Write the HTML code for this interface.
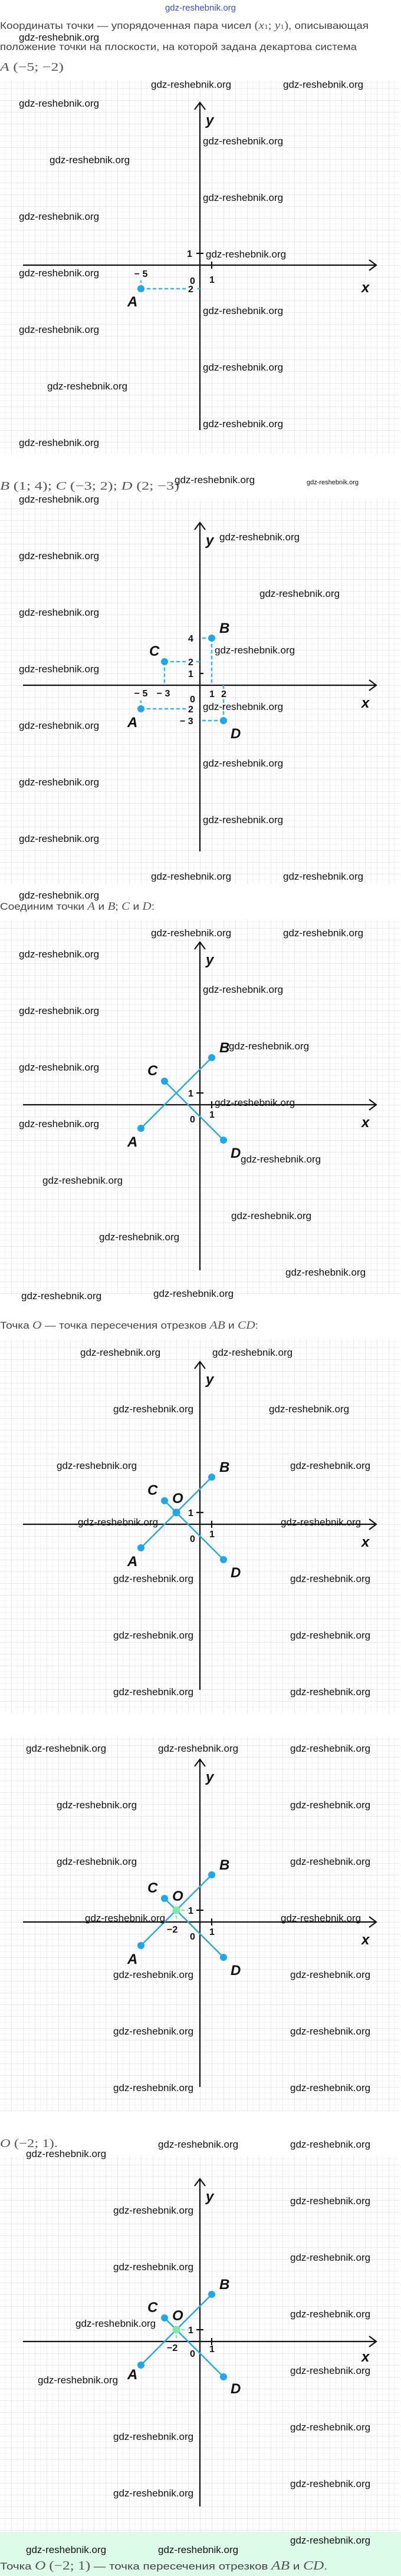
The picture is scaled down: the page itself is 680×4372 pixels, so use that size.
<!DOCTYPE html>
<html><head><meta charset="utf-8">
<style>
html,body{margin:0;padding:0;background:#fff;}
body{width:680px;height:4372px;overflow:hidden;position:relative;}
svg{position:absolute;left:0;top:0;}
.wm{font-family:"Liberation Sans",sans-serif;font-size:17px;fill:#111;}
.tx{font-family:"Liberation Sans",sans-serif;font-size:17px;fill:#444;}
.mi{font-family:"Liberation Serif",serif;font-style:italic;fill:#555;}
.mr{font-family:"Liberation Serif",serif;fill:#555;}
.ax{stroke:#111;stroke-width:2.2;fill:none;}
.num{font-family:"Liberation Sans",sans-serif;font-size:16px;font-weight:bold;fill:#111;}
.pl{font-family:"Liberation Sans Narrow","Liberation Sans",sans-serif;font-size:24px;font-weight:bold;font-style:italic;fill:#111;}
.dl{stroke:#3bb5e0;stroke-width:2.5;stroke-dasharray:6 4;fill:none;}
.gd{stroke:#7ee8a8;stroke-width:2.5;stroke-dasharray:5 4;fill:none;}
.sg{stroke:#2aa8e0;stroke-width:2.5;fill:none;}
.pt{fill:#1ea7ee;}
</style></head><body>
<svg width="680" height="4372" viewBox="0 0 680 4372" xmlns="http://www.w3.org/2000/svg">
<defs>
<pattern id="gp" patternUnits="userSpaceOnUse" width="20" height="20" x="0" y="0">
<rect width="20" height="20" fill="#fff"/>
<path d="M10 0V20M0 10H20" stroke="#f1f1f1" stroke-width="1"/>
<path d="M0 0V20M0 0H20" stroke="#e2e2e2" stroke-width="1.5"/>
</pattern>
</defs>
<rect x="0" y="4297" width="680" height="75" fill="#dcfbe8"/>

<!-- header -->
<text x="340" y="18" text-anchor="middle" font-family="Liberation Sans Narrow, Liberation Sans, sans-serif" font-size="15" fill="#3a4fe0">gdz-reshebnik.org</text>
<text class="tx" x="0" y="49" textLength="625" lengthAdjust="spacingAndGlyphs">Координаты точки — упорядоченная пара чисел <tspan class="mr" font-size="19">(</tspan><tspan class="mi" font-size="19">x</tspan><tspan class="mr" font-size="12">1</tspan><tspan class="mr" font-size="19">;  </tspan><tspan class="mi" font-size="19">y</tspan><tspan class="mr" font-size="12">1</tspan><tspan class="mr" font-size="19">)</tspan>, описывающая</text>
<text class="tx" x="0" y="85" textLength="605" lengthAdjust="spacingAndGlyphs">положение точки на плоскости, на которой задана декартова система</text>
<text class="mr" x="0" y="120" font-size="20" textLength="108" lengthAdjust="spacingAndGlyphs"><tspan class="mi">A</tspan> (−5;  −2)</text>

<!-- GRAPH 1 -->
<g transform="translate(339,450)">
<rect x="-339" y="-313" width="677" height="633" fill="url(#gp)"/>
<path class="ax" d="M-300 0H299M287 -9L299 0L287 9M0 280V-276M-9 -264L0 -276L9 -264M20 -6V6M-6 -20H6"/>
<text class="num" x="-17" y="32" font-size="20">0</text>
<text class="num" x="16" y="30">1</text>
<text class="num" x="-22" y="-14">1</text>
<text x="10" y="-238" class="pl" font-size="26">y</text>
<text x="274" y="46" class="pl" font-size="26">x</text>
<path class="dl" d="M-100 40V26M-100 40H-22M-4 40H0"/>
<text class="num" x="-100" y="20" text-anchor="middle">− 5</text>
<text class="num" x="-20" y="46">2</text>
<circle class="pt" cx="-100" cy="40" r="6"/>
<text class="pl" x="-123" y="70">A</text>
</g>

<!-- GRAPH 2 -->
<text class="mr" x="0" y="831" font-size="20" textLength="304" lengthAdjust="spacingAndGlyphs"><tspan class="mi">B</tspan> (1;  4);  <tspan class="mi">C</tspan> (−3;  2);   <tspan class="mi">D</tspan> (2;  −3)</text>
<g transform="translate(339,1163)">
<rect x="-339" y="-316" width="677" height="336" fill="url(#gp)"/>
<rect x="-339" y="20" width="677" height="317" fill="url(#gp)"/>
<path class="ax" d="M-300 0H299M287 -9L299 0L287 9M0 282V-276M-9 -264L0 -276L9 -264M0 -20H6"/>
<path class="dl" d="M-100 40V26M-100 40H-20M20 -80H4M20 -80V-4M-60 -40H-20M-6 -40H0M-60 -40V-4M40 60H4M40 60V22M40 6V0"/>
<text class="num" x="-100" y="19" text-anchor="middle">− 5</text>
<text class="num" x="-62" y="19" text-anchor="middle">− 3</text>
<text class="num" x="-17" y="29" font-size="20">0</text>
<text class="num" x="16" y="20">1</text>
<text class="num" x="36" y="20">2</text>
<text class="num" x="-20" y="-74">4</text>
<text class="num" x="-20" y="-34">2</text>
<text class="num" x="-20" y="-14">1</text>
<text class="num" x="-20" y="46">2</text>
<text class="num" x="-34" y="66">− 3</text>
<text x="10" y="-238" class="pl" font-size="26">y</text>
<text x="274" y="38" class="pl" font-size="26">x</text>
<circle class="pt" cx="-100" cy="40" r="6"/>
<circle class="pt" cx="20" cy="-80" r="6"/>
<circle class="pt" cx="-60" cy="-40" r="6"/>
<circle class="pt" cx="40" cy="60" r="6"/>
<text class="pl" x="-123" y="71">A</text>
<text class="pl" x="33" y="-89">B</text>
<text class="pl" x="-86" y="-50">C</text>
<text class="pl" x="52" y="90">D</text>
</g>

<!-- GRAPH 3 -->
<text class="tx" x="0" y="1544" textLength="262" lengthAdjust="spacingAndGlyphs">Соединим точки <tspan class="mi" font-size="19">A</tspan> и <tspan class="mi" font-size="19">B</tspan>; <tspan class="mi" font-size="19">C</tspan> и <tspan class="mi" font-size="19">D</tspan>:</text>
<g transform="translate(339,1875)">
<rect x="-339" y="-314" width="677" height="636" fill="url(#gp)"/>
<path class="ax" d="M-300 0H299M287 -9L299 0L287 9M0 281V-276M-9 -264L0 -276L9 -264M20 -6V6M-6 -20H6"/>
<text class="num" x="-17" y="30" font-size="20">0</text>
<text class="num" x="16" y="22">1</text>
<text class="num" x="-20" y="-14">1</text>
<text x="10" y="-238" class="pl" font-size="26">y</text>
<text x="274" y="38" class="pl" font-size="26">x</text>
<path class="sg" d="M-100 40L20 -80M-60 -40L40 60"/>
<circle class="pt" cx="-100" cy="40" r="6"/><circle class="pt" cx="20" cy="-80" r="6"/>
<circle class="pt" cx="-60" cy="-40" r="6"/><circle class="pt" cx="40" cy="60" r="6"/>
<text class="pl" x="-123" y="71">A</text>
<text class="pl" x="33" y="-89">B</text>
<text class="pl" x="-89" y="-50">C</text>
<text class="pl" x="52" y="90">D</text>
</g>

<!-- GRAPH 4 -->
<text class="tx" x="0" y="2255" textLength="438" lengthAdjust="spacingAndGlyphs">Точка <tspan class="mi" font-size="19">O</tspan> — точка пересечения отрезков <tspan class="mi" font-size="19">AB</tspan> и <tspan class="mi" font-size="19">CD</tspan>:</text>
<g transform="translate(339,2587)">
<rect x="-339" y="-314" width="677" height="634" fill="url(#gp)"/>
<path class="ax" d="M-300 0H299M287 -9L299 0L287 9M0 281V-276M-9 -264L0 -276L9 -264M20 -6V6M-6 -20H6"/>
<text class="num" x="-17" y="30" font-size="20">0</text>
<text class="num" x="16" y="22">1</text>
<text class="num" x="-20" y="-14">1</text>
<text x="10" y="-238" class="pl" font-size="26">y</text>
<text x="274" y="38" class="pl" font-size="26">x</text>
<path class="sg" d="M-100 40L20 -80M-60 -40L40 60"/>
<circle class="pt" cx="-100" cy="40" r="6"/><circle class="pt" cx="20" cy="-80" r="6"/>
<circle class="pt" cx="-60" cy="-40" r="6"/><circle class="pt" cx="40" cy="60" r="6"/>
<circle class="pt" cx="-40" cy="-20" r="6.5"/>
<text class="pl" x="-123" y="71">A</text>
<text class="pl" x="33" y="-89">B</text>
<text class="pl" x="-89" y="-50">C</text>
<text class="pl" x="52" y="90">D</text>
<text class="pl" x="-47" y="-36">O</text>
</g>

<!-- GRAPH 5 -->
<g transform="translate(339,3262)">
<rect x="-339" y="-314" width="677" height="635" fill="url(#gp)"/>
<path class="ax" d="M-300 0H299M287 -9L299 0L287 9M0 280V-276M-9 -264L0 -276L9 -264M20 -6V6M-6 -20H6"/>
<path class="gd" d="M-40 -20H-20M-40 -20V-2"/>
<text class="num" x="-17" y="30" font-size="20">0</text>
<text class="num" x="16" y="22">1</text>
<text class="num" x="-20" y="-14">1</text>
<text class="num" x="-56" y="18">−2</text>
<text x="10" y="-238" class="pl" font-size="26">y</text>
<text x="274" y="38" class="pl" font-size="26">x</text>
<path class="sg" d="M-100 40L20 -80M-60 -40L40 60"/>
<circle class="pt" cx="-100" cy="40" r="6"/><circle class="pt" cx="20" cy="-80" r="6"/>
<circle class="pt" cx="-60" cy="-40" r="6"/><circle class="pt" cx="40" cy="60" r="6"/>
<circle cx="-40" cy="-20" r="6.5" fill="#7ee8a8"/>
<text class="pl" x="-123" y="71">A</text>
<text class="pl" x="33" y="-89">B</text>
<text class="pl" x="-89" y="-50">C</text>
<text class="pl" x="52" y="90">D</text>
<text class="pl" x="-47" y="-36">O</text>
</g>

<!-- GRAPH 6 -->
<text class="mr" x="0" y="3644" font-size="20" textLength="98" lengthAdjust="spacingAndGlyphs"><tspan class="mi">O</tspan> (−2;  1).</text>
<g transform="translate(339,3974)">
<rect x="-339" y="-315" width="677" height="638" fill="url(#gp)"/>
<path class="ax" d="M-300 0H299M287 -9L299 0L287 9M0 280V-276M-9 -264L0 -276L9 -264M20 -6V6M-6 -20H6"/>
<path class="gd" d="M-40 -20H-20M-40 -20V-2"/>
<text class="num" x="-17" y="26" font-size="20">0</text>
<text class="num" x="16" y="18">1</text>
<text class="num" x="-20" y="-14">1</text>
<text class="num" x="-56" y="16">−2</text>
<text x="10" y="-238" class="pl" font-size="26">y</text>
<text x="274" y="34" class="pl" font-size="26">x</text>
<path class="sg" d="M-100 40L20 -80M-60 -40L40 60"/>
<circle class="pt" cx="-100" cy="40" r="6"/><circle class="pt" cx="20" cy="-80" r="6"/>
<circle class="pt" cx="-60" cy="-40" r="6"/><circle class="pt" cx="40" cy="60" r="6"/>
<circle cx="-40" cy="-20" r="6.5" fill="#7ee8a8"/>
<text class="pl" x="-123" y="64">A</text>
<text class="pl" x="33" y="-89">B</text>
<text class="pl" x="-89" y="-50">C</text>
<text class="pl" x="52" y="88">D</text>
<text class="pl" x="-47" y="-36">O</text>
</g>
<text class="tx" x="0" y="4361" font-size="18" textLength="555" lengthAdjust="spacingAndGlyphs">Точка <tspan class="mi" font-size="21">O</tspan> <tspan class="mr" font-size="21">(−2;  1)</tspan> — точка пересечения отрезков <tspan class="mi" font-size="21">AB</tspan> и <tspan class="mi" font-size="21">CD</tspan>.</text>

<!-- watermarks -->
<g class="wm">
<text x="32" y="69">gdz-reshebnik.org</text>
<text x="256" y="149">gdz-reshebnik.org</text><text x="480" y="149">gdz-reshebnik.org</text>
<text x="32" y="181">gdz-reshebnik.org</text>
<text x="344" y="245">gdz-reshebnik.org</text>
<text x="84" y="277">gdz-reshebnik.org</text>
<text x="344" y="341">gdz-reshebnik.org</text>
<text x="32" y="373">gdz-reshebnik.org</text>
<text x="349" y="437">gdz-reshebnik.org</text>
<text x="32" y="469">gdz-reshebnik.org</text>
<text x="344" y="533">gdz-reshebnik.org</text>
<text x="32" y="565">gdz-reshebnik.org</text>
<text x="344" y="629">gdz-reshebnik.org</text>
<text x="80" y="661">gdz-reshebnik.org</text>
<text x="344" y="725">gdz-reshebnik.org</text>
<text x="32" y="757">gdz-reshebnik.org</text>

<text x="296" y="820">gdz-reshebnik.org</text>
<text x="520" y="822" font-size="11">gdz-reshebnik.org</text>
<text x="32" y="853">gdz-reshebnik.org</text>
<text x="372" y="917">gdz-reshebnik.org</text>
<text x="32" y="949">gdz-reshebnik.org</text>
<text x="440" y="1013">gdz-reshebnik.org</text>
<text x="32" y="1045">gdz-reshebnik.org</text>
<text x="364" y="1109">gdz-reshebnik.org</text>
<text x="32" y="1141">gdz-reshebnik.org</text>
<text x="344" y="1205">gdz-reshebnik.org</text>
<text x="32" y="1237">gdz-reshebnik.org</text>
<text x="344" y="1301">gdz-reshebnik.org</text>
<text x="32" y="1333">gdz-reshebnik.org</text>
<text x="344" y="1397">gdz-reshebnik.org</text>
<text x="32" y="1429">gdz-reshebnik.org</text>
<text x="256" y="1493">gdz-reshebnik.org</text><text x="480" y="1493">gdz-reshebnik.org</text>
<text x="32" y="1525">gdz-reshebnik.org</text>

<text x="256" y="1589">gdz-reshebnik.org</text><text x="480" y="1589">gdz-reshebnik.org</text>
<text x="32" y="1625">gdz-reshebnik.org</text>
<text x="344" y="1685">gdz-reshebnik.org</text>
<text x="32" y="1721">gdz-reshebnik.org</text>
<text x="388" y="1781">gdz-reshebnik.org</text>
<text x="32" y="1817">gdz-reshebnik.org</text>
<text x="364" y="1877">gdz-reshebnik.org</text>
<text x="32" y="1913">gdz-reshebnik.org</text>
<text x="408" y="1973">gdz-reshebnik.org</text>
<text x="72" y="2009">gdz-reshebnik.org</text>
<text x="392" y="2069">gdz-reshebnik.org</text>
<text x="168" y="2105">gdz-reshebnik.org</text>
<text x="484" y="2165">gdz-reshebnik.org</text>
<text x="260" y="2201">gdz-reshebnik.org</text>
<text x="36" y="2205">gdz-reshebnik.org</text>

<text x="136" y="2301">gdz-reshebnik.org</text><text x="360" y="2301">gdz-reshebnik.org</text>
<text x="192" y="2397">gdz-reshebnik.org</text><text x="456" y="2397">gdz-reshebnik.org</text>
<text x="96" y="2493">gdz-reshebnik.org</text><text x="492" y="2493">gdz-reshebnik.org</text>
<text x="132" y="2589">gdz-reshebnik.org</text><text x="476" y="2589">gdz-reshebnik.org</text>
<text x="192" y="2685">gdz-reshebnik.org</text><text x="492" y="2685">gdz-reshebnik.org</text>
<text x="192" y="2781">gdz-reshebnik.org</text><text x="492" y="2781">gdz-reshebnik.org</text>
<text x="192" y="2877">gdz-reshebnik.org</text><text x="492" y="2877">gdz-reshebnik.org</text>

<text x="44" y="2973">gdz-reshebnik.org</text><text x="268" y="2973">gdz-reshebnik.org</text><text x="492" y="2973">gdz-reshebnik.org</text>
<text x="96" y="3069">gdz-reshebnik.org</text><text x="492" y="3069">gdz-reshebnik.org</text>
<text x="96" y="3165">gdz-reshebnik.org</text><text x="492" y="3165">gdz-reshebnik.org</text>
<text x="144" y="3261">gdz-reshebnik.org</text><text x="476" y="3261">gdz-reshebnik.org</text>
<text x="192" y="3357">gdz-reshebnik.org</text><text x="492" y="3357">gdz-reshebnik.org</text>
<text x="192" y="3453">gdz-reshebnik.org</text><text x="492" y="3453">gdz-reshebnik.org</text>
<text x="192" y="3549">gdz-reshebnik.org</text><text x="492" y="3549">gdz-reshebnik.org</text>

<text x="268" y="3645">gdz-reshebnik.org</text><text x="492" y="3645">gdz-reshebnik.org</text>
<text x="44" y="3661">gdz-reshebnik.org</text>
<text x="492" y="3741">gdz-reshebnik.org</text>
<text x="192" y="3757">gdz-reshebnik.org</text>
<text x="492" y="3837">gdz-reshebnik.org</text>
<text x="192" y="3853">gdz-reshebnik.org</text>
<text x="492" y="3933">gdz-reshebnik.org</text>
<text x="128" y="3949">gdz-reshebnik.org</text>
<text x="492" y="4029">gdz-reshebnik.org</text>
<text x="64" y="4045">gdz-reshebnik.org</text>
<text x="492" y="4125">gdz-reshebnik.org</text>
<text x="192" y="4141">gdz-reshebnik.org</text>
<text x="492" y="4221">gdz-reshebnik.org</text>
<text x="192" y="4237">gdz-reshebnik.org</text>
<text x="492" y="4317">gdz-reshebnik.org</text>
<text x="44" y="4333">gdz-reshebnik.org</text><text x="268" y="4333">gdz-reshebnik.org</text>
</g>
</svg>
</body></html>
